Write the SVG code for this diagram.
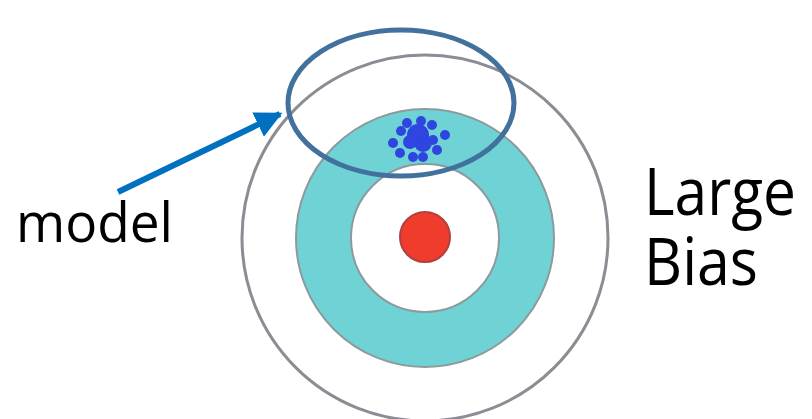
<svg xmlns="http://www.w3.org/2000/svg" width="812" height="419" viewBox="0 0 812 419">
<defs>
<style>
.ring{fill:none;stroke:#8c8c94;stroke-width:3}
.dot{fill:#2f45e0}
.lbl{font-family:"Open Sans","Noto Sans","Liberation Sans",sans-serif;fill:#000}
</style>
<marker id="ah" viewBox="0 0 10 10" refX="9" refY="5" markerWidth="4.5" markerHeight="4.5" orient="auto" markerUnits="strokeWidth">
<path d="M0,0 L10,5 L0,10 Z" fill="#0070c0"/>
</marker>
</defs>
<rect width="812" height="419" fill="#fff"/>
<g id="target">
<circle class="ring" cx="425" cy="238" r="183"/>
<circle cx="425" cy="238" r="129" fill="#6fd3d6" stroke="#8c9a9e" stroke-width="2"/>
<circle cx="425" cy="238" r="74" fill="#fff" stroke="#8c9a9e" stroke-width="2"/>
<circle cx="425" cy="237" r="25" fill="#f03c2c" stroke="#b04040" stroke-width="2"/>
</g>
<g id="cluster">
<circle class="dot" cx="418" cy="135" r="11"/>
<circle class="dot" cx="423" cy="143" r="9"/>
<circle class="dot" cx="410" cy="142" r="7"/>
<circle class="dot" cx="407" cy="123" r="5"/>
<circle class="dot" cx="421" cy="121" r="5"/>
<circle class="dot" cx="432" cy="125" r="5"/>
<circle class="dot" cx="445" cy="135" r="5"/>
<circle class="dot" cx="393" cy="143" r="5"/>
<circle class="dot" cx="400" cy="153" r="5"/>
<circle class="dot" cx="413" cy="157" r="5"/>
<circle class="dot" cx="423" cy="157" r="5"/>
<circle class="dot" cx="437" cy="150" r="5"/>
<circle class="dot" cx="401" cy="131" r="5"/>
<circle class="dot" cx="433" cy="140" r="5"/>
</g>
<g id="model-ellipse">
<ellipse cx="401" cy="103" rx="113" ry="73" fill="none" stroke="#41719c" stroke-width="5"/>
</g>
<g id="connectors">
<line x1="118" y1="192" x2="280" y2="114" stroke="#0070c0" stroke-width="6" marker-end="url(#ah)"/>
</g>
<g id="label-model">
<text class="lbl" x="16" y="242" font-size="54" textLength="157" lengthAdjust="spacingAndGlyphs">model</text>
</g>
<g id="label-bias">
<text class="lbl" x="644" y="215" font-size="66" textLength="152" lengthAdjust="spacingAndGlyphs">Large</text>
<text class="lbl" x="644" y="285" font-size="66" textLength="114" lengthAdjust="spacingAndGlyphs">Bias</text>
</g>
</svg>
